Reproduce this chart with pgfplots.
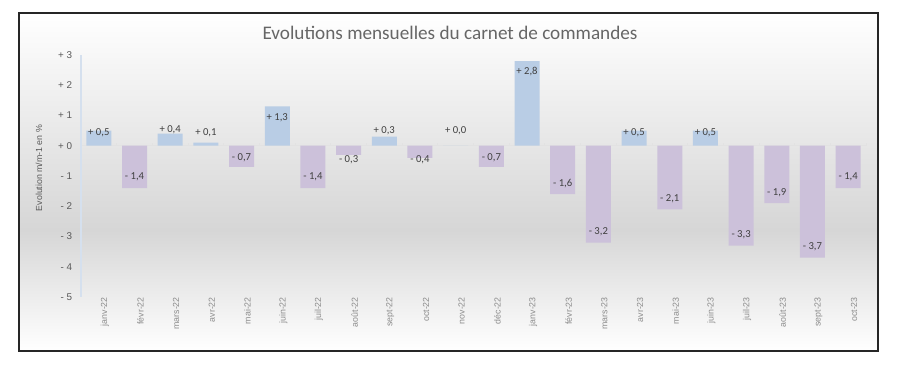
\documentclass[border=0pt]{standalone}
\usepackage{pgfplots}
\usepackage{pgfplotstable}
\pgfplotsset{compat=1.18}
\usepackage{fontspec}
\setmainfont{Carlito}
\newfontfamily\arialf{Liberation Sans}
\definecolor{posbar}{HTML}{B9CDE5}
\definecolor{negbar}{HTML}{CCC1DA}
\definecolor{bgmid}{HTML}{D6D6D6}
\definecolor{titlec}{HTML}{666666}
\definecolor{labc}{HTML}{404040}
\definecolor{ytc}{HTML}{595959}
\definecolor{xtc}{HTML}{8C8C8C}
\definecolor{yaxc}{HTML}{D5E0EE}
\definecolor{zeroc}{HTML}{E2E2E2}

\pgfplotstableread{
x v ly lab
0 0.5 0.43 {+ 0,5}
1 -1.4 -1.04 {- 1,4}
2 0.4 0.53 {+ 0,4}
3 0.1 0.43 {+ 0,1}
4 -0.7 -0.38 {- 0,7}
5 1.3 0.94 {+ 1,3}
6 -1.4 -1.04 {- 1,4}
7 -0.3 -0.47 {- 0,3}
8 0.3 0.50 {+ 0,3}
9 -0.4 -0.47 {- 0,4}
10 0.0 0.50 {+ 0,0}
11 -0.7 -0.38 {- 0,7}
12 2.8 2.44 {+ 2,8}
13 -1.6 -1.24 {- 1,6}
14 -3.2 -2.84 {- 3,2}
15 0.5 0.43 {+ 0,5}
16 -2.1 -1.74 {- 2,1}
17 0.5 0.43 {+ 0,5}
18 -3.3 -2.94 {- 3,3}
19 -1.9 -1.54 {- 1,9}
20 -3.7 -3.34 {- 3,7}
21 -1.4 -1.04 {- 1,4}
}\datatable

\begin{document}
\begin{tikzpicture}
\begin{scope}[x=0.75pt,y=0.75pt]
\fill[white] (0,0) rectangle (900,367);
\shade[top color=white, bottom color=bgmid] (19,137) rectangle (878,354);
\shade[top color=bgmid, bottom color=white] (19,16) rectangle (878,137.2);
\draw[line width=0.9pt, black!85] (19,16) rectangle (878,354);
\node[font=\fontsize{14.4}{16}\selectfont, text=titlec] at (450,334) {Evolutions mensuelles du carnet de commandes};
\end{scope}
\begin{axis}[
  at={(60.75pt,52.5pt)}, anchor=south west,
  scale only axis, width=588.75pt, height=181.5pt,
  xmin=-0.5, xmax=21.5, ymin=-5, ymax=3,
  axis line style={draw=none},
  major tick length=0pt,
  xtick={0,...,21},
  xticklabels={janv-22,févr-22,mars-22,avr-22,mai-22,juin-22,juil-22,août-22,sept-22,oct-22,nov-22,déc-22,janv-23,févr-23,mars-23,avr-23,mai-23,juin-23,juil-23,août-23,sept-23,oct-23},
  x tick label style={rotate=90, anchor=east, inner sep=0pt, yshift=-4.5pt, font=\arialf\fontsize{6.6}{7}\selectfont, text=xtc},
  ytick={-5,...,3},
  yticklabels={- 5,- 4,- 3,- 2,- 1,+ 0,+ 1,+ 2,+ 3},
  y tick label style={anchor=east, inner sep=0pt, xshift=-6.5pt, font=\arialf\fontsize{7.4}{8}\selectfont, text=ytc},
  ylabel={Evolution m/m-1 en \%},
  ylabel style={at={(axis description cs:-0.0535,0.533)}, anchor=center, font=\arialf\fontsize{6.6}{7}\selectfont, text=ytc},
  clip=false,
]
\draw[zeroc, line width=0.75pt] (axis cs:-0.5,0) -- (axis cs:21.5,0);
\pgfplotsinvokeforeach{0,...,22}{
  \draw[zeroc, line width=0.6pt] (axis cs:#1-0.5,0) -- (axis cs:#1-0.5,0.1);
}
\draw[yaxc, line width=1pt] (axis cs:-0.5,-5) -- (axis cs:-0.5,3);
\addplot[ybar, bar width=18.75pt, bar shift=0pt, fill=posbar, draw=none, restrict y to domain=0:10] table[x=x, y=v] {\datatable};
\addplot[ybar, bar width=18.75pt, bar shift=0pt, fill=negbar, draw=none, restrict y to domain=-10:-0.01] table[x=x, y=v] {\datatable};
\addplot[draw=none, mark=none, nodes near coords, point meta=explicit symbolic,
  every node near coord/.append style={anchor=center, inner sep=0pt, font=\fontsize{8}{9}\selectfont, text=labc}]
  table[x=x, y=ly, meta=lab] {\datatable};
\end{axis}
\end{tikzpicture}
\end{document}
